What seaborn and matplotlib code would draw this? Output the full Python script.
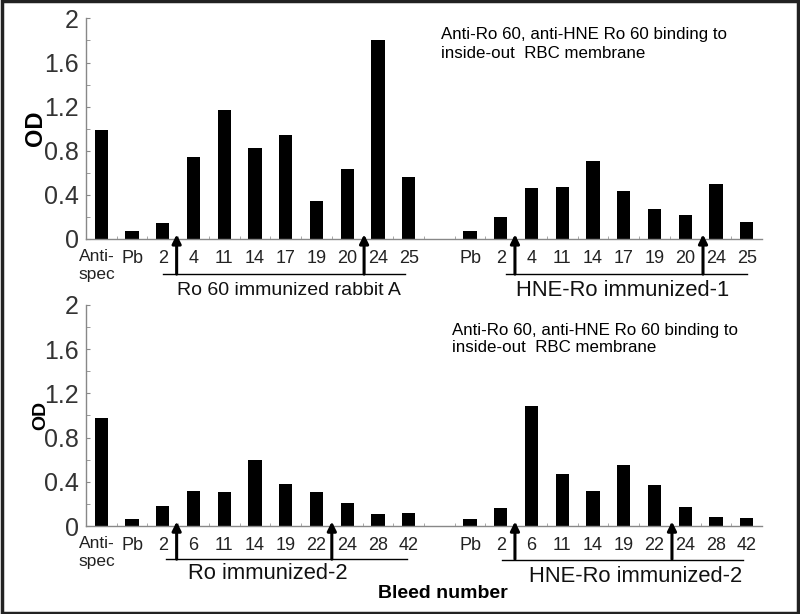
import numpy as np
import pandas as pd
import matplotlib
matplotlib.use("Agg")
import matplotlib.pyplot as plt
import seaborn as sns

# top panel: Ro 60 immunized rabbit A (left) and HNE-Ro immunized-1 (right)
top_left_labels = ["Anti-\nspec", "Pb", "2", "4", "11", "14", "17", "19", "20", "24", "25"]
top_left_od = [0.99, 0.07, 0.14, 0.74, 1.17, 0.82, 0.94, 0.34, 0.63, 1.80, 0.56]
top_right_labels = ["Pb", "2", "4", "11", "14", "17", "19", "20", "24", "25"]
top_right_od = [0.07, 0.20, 0.46, 0.47, 0.71, 0.43, 0.27, 0.22, 0.50, 0.15]

# bottom panel: Ro immunized-2 (left) and HNE-Ro immunized-2 (right)
bot_left_labels = ["Anti-\nspec", "Pb", "2", "6", "11", "14", "19", "22", "24", "28", "42"]
bot_left_od = [0.98, 0.06, 0.18, 0.32, 0.31, 0.60, 0.38, 0.31, 0.21, 0.11, 0.12]
bot_right_labels = ["Pb", "2", "6", "11", "14", "19", "22", "24", "28", "42"]
bot_right_od = [0.06, 0.16, 1.09, 0.47, 0.32, 0.55, 0.37, 0.17, 0.08, 0.07]

group_names = [["Ro 60 immunized rabbit A", "HNE-Ro immunized-1"],
               ["Ro immunized-2", "HNE-Ro immunized-2"]]
note = "Anti-Ro 60, anti-HNE Ro 60 binding to\ninside-out  RBC membrane"

plt.rcParams["font.family"] = ["Liberation Sans", "DejaVu Sans"]

fig = plt.figure(figsize=(8, 6.14), dpi=100)
ax_top = fig.add_axes([0.1075, 0.611, 0.845, 0.359])
ax_bot = fig.add_axes([0.1075, 0.1433, 0.845, 0.36])


def panel(ax, l_labels, l_od, r_labels, r_od, groups, arrows, lines, glabels, gsizes, od_size, od_x):
    slots = [f"L{i}" for i in range(len(l_labels))] + ["gap"] + [f"R{i}" for i in range(len(r_labels))]
    df = pd.DataFrame({
        "slot": [f"L{i}" for i in range(len(l_labels))] + [f"R{i}" for i in range(len(r_labels))],
        "od": l_od + r_od,
    })
    sns.barplot(data=df, x="slot", y="od", order=slots, color="black", width=0.43,
                saturation=1, ax=ax, edgecolor="black", linewidth=0)
    labels = [""] + l_labels[1:] + [""] + r_labels
    ax.set_xticks(range(len(slots)))
    ax.set_xticklabels(labels, fontsize=13, color="#222222")
    ax.tick_params(axis="x", length=0, pad=8)
    ax.set_xticks(np.arange(0.5, len(slots) - 1, 1), minor=True)
    ax.tick_params(axis="x", which="minor", direction="in", length=2, color="#999999")
    ax.set_xlim(-0.5, len(slots) - 0.5)
    ax.set_ylim(0, 2)
    ax.set_yticks([0, 0.4, 0.8, 1.2, 1.6, 2])
    ax.set_yticklabels(["0", "0.4", "0.8", "1.2", "1.6", "2"], fontsize=18, color="#333333")
    ax.set_yticks(np.arange(0.2, 2, 0.4), minor=True)
    ax.tick_params(axis="y", which="both", direction="in", length=3, color="#888888", pad=5)
    for s in ["top", "right"]:
        ax.spines[s].set_visible(False)
    for s in ["left", "bottom"]:
        ax.spines[s].set_color("#888888")
        ax.spines[s].set_linewidth(1)
    ax.set_xlabel("")
    ax.set_ylabel("")
    tr = ax.get_xaxis_transform()
    # first category label sits lower and smaller than the others
    ax.text(-0.15, -0.045, l_labels[0], transform=tr, ha="center", va="top", fontsize=12.5,
            color="#222222", linespacing=1.25)
    ax.text(od_x, 0.5, "OD", rotation=90, transform=ax.transAxes, ha="center", va="center",
            fontsize=od_size, fontweight="bold")
    for x0, x1, y in lines:
        ax.plot([x0, x1], [y, y], transform=tr, color="black", lw=1, clip_on=False)
    for x, y in arrows:
        ax.annotate("", xy=(x, 0.02), xytext=(x, y), xycoords=tr, textcoords=tr,
                    arrowprops=dict(arrowstyle="-|>", color="black", lw=2.2, mutation_scale=13,
                                    shrinkA=0, shrinkB=0),
                    annotation_clip=False)
    for (x, y), name, fs in zip(glabels, groups, gsizes):
        ax.text(x, y, name, transform=tr, ha="center", va="center", fontsize=fs, color="#111111")


panel(ax_top, top_left_labels, top_left_od, top_right_labels, top_right_od, group_names[0],
      arrows=[(2.45, -0.16), (8.55, -0.16), (13.46, -0.16), (19.58, -0.16)],
      lines=[(2.02, 9.89, -0.16), (13.17, 21.0, -0.16)],
      glabels=[(6.1, -0.235), (16.97, -0.235)], gsizes=[14, 15.8], od_size=17, od_x=-0.075)
panel(ax_bot, bot_left_labels, bot_left_od, bot_right_labels, bot_right_od, group_names[1],
      arrows=[(2.45, -0.15), (7.5, -0.15), (13.46, -0.15), (18.57, -0.15)],
      lines=[(2.11, 9.95, -0.15), (13.04, 20.88, -0.155)],
      glabels=[(5.43, -0.215), (17.4, -0.228)], gsizes=[15.8, 15.8], od_size=14, od_x=-0.067)

fig.text(441 / 800, 1 - 44 / 614, note, fontsize=12.2, ha="left", va="center", linespacing=1.25)
fig.text(452 / 800, 1 - 339 / 614, note, fontsize=12.2, ha="left", va="center", linespacing=1.25)
fig.text(443 / 800, 1 - 594 / 614, "Bleed number", fontsize=14, fontweight="bold", ha="center", va="center")

# black border around the whole figure
fig.patches.append(plt.Rectangle((0.002, 0.002), 0.996, 0.996, transform=fig.transFigure,
                                 fill=False, edgecolor="#222222", lw=2.5))

fig.savefig("out.png", dpi=100)
